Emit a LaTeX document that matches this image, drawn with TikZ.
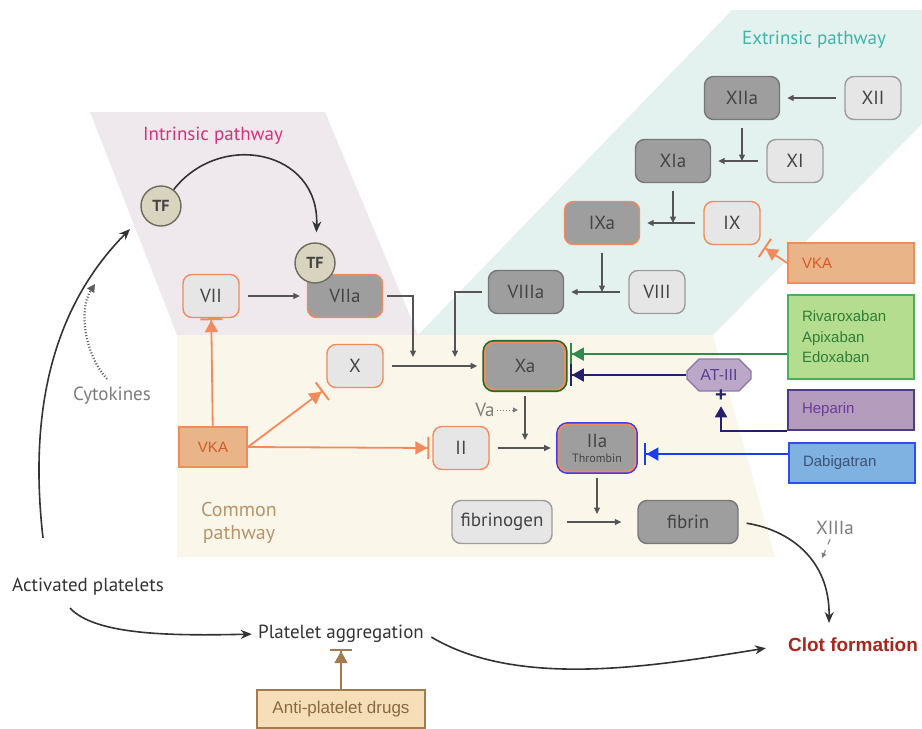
\documentclass[tikz,border=0pt]{standalone}
\usepackage{fontspec}
\setmainfont{PT Sans}
\newfontfamily\helv{Liberation Sans}
\usepackage{tikz}
\usetikzlibrary{arrows.meta,shapes.misc}
\definecolor{tealbg}{HTML}{E3F1EF}
\definecolor{pinkbg}{HTML}{EFE8ED}
\definecolor{creambg}{HTML}{FAF7EA}
\definecolor{extcol}{HTML}{3FB5A9}
\definecolor{intcol}{HTML}{D8307A}
\definecolor{comcol}{HTML}{B89468}
\definecolor{lightfill}{HTML}{E6E6E7}
\definecolor{lightline}{HTML}{9C9C9C}
\definecolor{darkfill}{HTML}{9E9E9E}
\definecolor{darkline}{HTML}{777777}
\definecolor{factext}{HTML}{444444}
\definecolor{vkline}{HTML}{F28A5B}
\definecolor{vkfill}{HTML}{E9B487}
\definecolor{vktext}{HTML}{D65A28}
\definecolor{xagreen}{HTML}{1E6B2E}
\definecolor{thrblue}{HTML}{3A3CF0}
\definecolor{rivfill}{HTML}{B4DD90}
\definecolor{rivline}{HTML}{4CAF5B}
\definecolor{rivtext}{HTML}{2F7D34}
\definecolor{rivarrow}{HTML}{2E8B4E}
\definecolor{hepfill}{HTML}{B39CBC}
\definecolor{hepline}{HTML}{4A3C86}
\definecolor{heptext}{HTML}{6C3A9C}
\definecolor{navy}{HTML}{25206E}
\definecolor{dabfill}{HTML}{7FB2E0}
\definecolor{dabline}{HTML}{2E4DF2}
\definecolor{dabtext}{HTML}{3B5478}
\definecolor{dabarrow}{HTML}{1B3BF6}
\definecolor{atfill}{HTML}{BBA8C8}
\definecolor{atline}{HTML}{8E7BAA}
\definecolor{attext}{HTML}{5B3F93}
\definecolor{tffill}{HTML}{D9D4BF}
\definecolor{tfline}{HTML}{6F6B5C}
\definecolor{antifill}{HTML}{F6DFB8}
\definecolor{antiline}{HTML}{A47A4F}
\definecolor{antitext}{HTML}{8A6843}
\definecolor{clotred}{HTML}{A8261D}
\definecolor{graytext}{HTML}{7C7C7C}
\definecolor{linegray}{HTML}{555555}
\definecolor{curvecol}{HTML}{333333}
\tikzset{
  fac/.style={rectangle, rounded corners=4.5pt, minimum width=28pt, minimum height=21.5pt,
    inner sep=0pt, line width=0.7pt, text=factext, font=\fontsize{9.5}{10}\selectfont},
  light/.style={fac, fill=lightfill, draw=lightline},
  dark/.style={fac, fill=darkfill, draw=darkline},
  wide/.style={minimum width=37.5pt},
  long/.style={minimum width=50pt},
  vk/.style={draw=vkline},
  xa/.style={minimum width=40pt, minimum height=23.5pt, draw=vkline, line width=0.9pt,
    preaction={draw=xagreen, line width=2.6pt}},
  iia/.style={minimum width=38.5pt, minimum height=23.5pt, draw=vkline, line width=0.9pt,
    preaction={draw=thrblue, line width=2.4pt}, align=center},
  tf/.style={circle, fill=tffill, draw=tfline, line width=0.7pt, minimum size=20pt, inner sep=0pt,
    text=factext, font=\fontsize{8}{9}\selectfont\bfseries},
  vkbox/.style={rectangle, fill=vkfill, draw=vkline, line width=0.9pt, text=vktext,
    minimum width=34pt, minimum height=20pt, font=\helv\fontsize{7.5}{9}\selectfont},
  drug/.style={rectangle, line width=0.9pt, minimum height=20pt, text width=49pt, align=left,
    inner xsep=7pt, font=\helv\fontsize{7.5}{10.25}\selectfont},
  atiii/.style={chamfered rectangle, chamfered rectangle xsep=4pt, fill=atfill, draw=atline,
    line width=0.7pt, minimum width=32pt, minimum height=16pt, inner sep=0pt, text=attext,
    font=\helv\fontsize{8}{9}\selectfont},
  lab/.style={inner sep=1pt, text=curvecol, font=\fontsize{9.5}{11.5}\selectfont},
  arr/.style={draw=linegray, line width=0.55pt, -{Triangle[length=3.2pt,width=3pt]}},
  gap/.style={shorten <=4pt, shorten >=3.5pt},
  curv/.style={draw=curvecol, line width=0.8pt, -{Stealth[length=5.5pt,width=4.5pt]}},
  dotarr/.style={draw=graytext, line width=0.5pt, densely dotted, -{Triangle[length=2.5pt,width=2.5pt]}},
  inh/.style={line width=0.9pt, -{Triangle[length=6pt,width=6.5pt]Bar[width=11pt,line width=1pt]}},
}

\begin{document}
\begin{tikzpicture}[x=0.5pt,y=-0.5pt]
  \useasboundingbox (0,0) rectangle (922,729);

  % pathway panels
  \fill[tealbg] (418,335) -- (732,10) -- (922,10) -- (922,124) -- (713,335) -- cycle;
  \fill[pinkbg] (90,112) -- (325,112) -- (418,335) -- (177,335) -- cycle;
  \fill[creambg] (177,335) -- (713,335) -- (775,557) -- (177,557) -- cycle;

  \node[lab, text=extcol] (extT) at (814,40) {Extrinsic pathway};
  \node[lab, text=intcol] (intT) at (213,136) {Intrinsic pathway};
  \node[lab, text=comcol, align=center, font=\fontsize{10}{11.5}\selectfont] (comT) at (239,523) {Common\\pathway};

  % factors
  \node[light] (XII) at (873,98) {XII};
  \node[dark,wide] (XIIa) at (742,98) {XIIa};
  \node[light] (XI) at (795,161) {XI};
  \node[dark,wide] (XIa) at (673,161) {XIa};
  \node[light,vk] (IX) at (732,223) {IX};
  \node[dark,wide,vk] (IXa) at (602,223) {IXa};
  \node[light] (VIII) at (657,292) {VIII};
  \node[dark,wide] (VIIIa) at (526,292) {VIIIa};
  \node[light,vk] (VII) at (211,296) {VII};
  \node[dark,wide,vk] (VIIa) at (345,296) {VIIa};
  \node[tf] (TF1) at (161,206) {TF};
  \node[tf] (TF2) at (315,263) {TF};
  \node[light,vk] (X) at (355,366) {X};
  \node[dark,xa] (Xa) at (525,366) {Xa};
  \node[light,vk] (II) at (461,448) {II};
  \node[dark,iia] (IIa) at (597,448) {IIa\\[-2.5pt]{\fontsize{6}{6}\selectfont Thrombin}};
  \node[light,long] (fbg) at (502,522) {fibrinogen};
  \node[dark,long] (fbn) at (688,522) {fibrin};
  \node[vkbox] (VKAl) at (213,447) {VKA};

  % drugs
  \node[drug, fill=vkfill, draw=vkline, text=vktext] (VKAr) at (851,263) {VKA};
  \node[drug, fill=rivfill, draw=rivline, text=rivtext, minimum height=42pt] (Riv) at (851,337)
    {Rivaroxaban\\Apixaban\\Edoxaban};
  \node[drug, fill=hepfill, draw=hepline, text=heptext] (Hep) at (851,410) {Heparin};
  \node[drug, fill=dabfill, draw=dabline, text=dabtext] (Dab) at (852,463) {Dabigatran};
  \node[atiii] (AT) at (719,375) {AT-III};
  \node[lab, text=navy, font=\helv\bfseries\fontsize{10}{10}\selectfont] (plus) at (721,396) {+};

  \node[lab] (Act) at (88,587) {Activated platelets};
  \node[lab, text=graytext] (Cyto) at (112,396) {Cytokines};
  \node[lab, text=graytext] (Va) at (485,410) {Va};
  \node[lab, text=graytext] (XIIIa) at (835,528) {XIIIa};
  \node[lab] (PlAgg) at (341,634) {Platelet aggregation};
  \node[lab, text=clotred, font=\helv\bfseries\fontsize{9.5}{10}\selectfont] (Clot) at (853,645) {Clot formation};
  \node[rectangle, fill=antifill, draw=antiline, line width=0.9pt, minimum width=84pt, minimum height=19pt,
    text=antitext, font=\helv\fontsize{8.5}{9}\selectfont] (Anti) at (341,709) {Anti-platelet drugs};

  % junctions on the cascade lines
  \coordinate (j1) at (XIIa |- XI);
  \coordinate (j2) at (XIa |- IX);
  \coordinate (j3) at (IXa |- VIII);
  \coordinate (j4) at (455,357);
  \coordinate (j5) at (413,357);
  \coordinate (j6) at (525,440);
  \coordinate (j7) at (597,514);
  \coordinate (vaend) at (518,410);
  \coordinate (ip) at (130,229);
  \coordinate (cyend) at (95,284);
  \coordinate (clotin) at (829,623);
  \coordinate (x13end) at (822,558);

  \draw[arr,gap] (XII) -- (XIIa);
  \draw[arr,shorten <=4pt] (XIIa) -- (j1);
  \draw[arr,gap] (XI) -- (XIa);
  \draw[arr,shorten <=4pt] (XIa) -- (j2);
  \draw[arr,gap] (IX) -- (IXa);
  \draw[arr,shorten <=4pt] (IXa) -- (j3);
  \draw[arr,gap] (VIII) -- (VIIIa);
  \draw[arr,shorten <=3pt] (VIIIa.west) -| (j4);
  \draw[arr,shorten <=2pt] (VIIa.east) -| (j5);
  \draw[arr,gap] (VII) -- (VIIa);
  \draw[arr,gap] (X) -- (Xa);
  \draw[arr,shorten <=3pt] (Xa) -- (j6);
  \draw[arr,gap] (II) -- (IIa);
  \draw[arr,shorten <=3pt] (IIa) -- (j7);
  \draw[arr,shorten <=7pt,shorten >=8pt] (fbg) -- (fbn);
  \draw[dotarr] (Va) -- (vaend);

  % curved links
  \draw[curv,shorten >=5pt] (TF1) .. controls (220,130) and (320,150) .. (TF2);
  \draw[curv] ([shift={(-45,-38)}]Act.north) .. controls (25,380) and (70,290) .. (ip);
  \draw[dotarr,draw=curvecol!80,line width=1.1pt,-{Triangle[length=4pt,width=4pt]}]
    ([shift={(-5,-6)}]Cyto.north) .. controls (85,355) and (78,310) .. (cyend);
  \draw[curv,shorten >=2pt] ([shift={(-18,10)}]Act.south) .. controls (95,635) and (170,636) .. (PlAgg.west);
  \draw[curv,shorten <=3pt,shorten >=10pt] (PlAgg.east) .. controls (520,690) and (660,665) .. (Clot.west);
  \draw[curv,shorten <=4pt] (fbn.east) .. controls (790,530) and (830,560) .. (clotin);
  \draw[dotarr,dashed,shorten <=1pt] (XIIIa) -- (x13end);

  % inhibitors
  \draw[inh,draw=vkline,fill=vkline] (VKAl) -- (VII);
  \draw[inh,draw=vkline,fill=vkline,shorten >=2pt] (VKAl.east) -- (X.south west);
  \draw[inh,draw=vkline,fill=vkline,shorten >=1.5pt] (VKAl.east) -- (II.west);
  \draw[inh,draw=vkline,fill=vkline,shorten >=2pt] (VKAr.west) -- (IX.south east);
  \draw[inh,draw=rivarrow,fill=rivarrow,shorten >=2pt] (Riv.195) -- (Riv.195 -| Xa.east);
  \draw[inh,draw=navy,fill=navy,shorten >=2pt] (AT.west) -- (AT.west -| Xa.east);
  \draw[inh,draw=dabarrow,fill=dabarrow,shorten >=4pt] (Dab.172) -- (Dab.172 -| IIa.east);
  \draw[draw=navy,line width=0.9pt,-{Triangle[length=5.5pt,width=6pt]},shorten >=1pt] (Hep.south west) -| (plus);
  \draw[inh,draw=antiline,fill=antiline,shorten >=2pt] (Anti) -- (PlAgg);
\end{tikzpicture}
\end{document}
